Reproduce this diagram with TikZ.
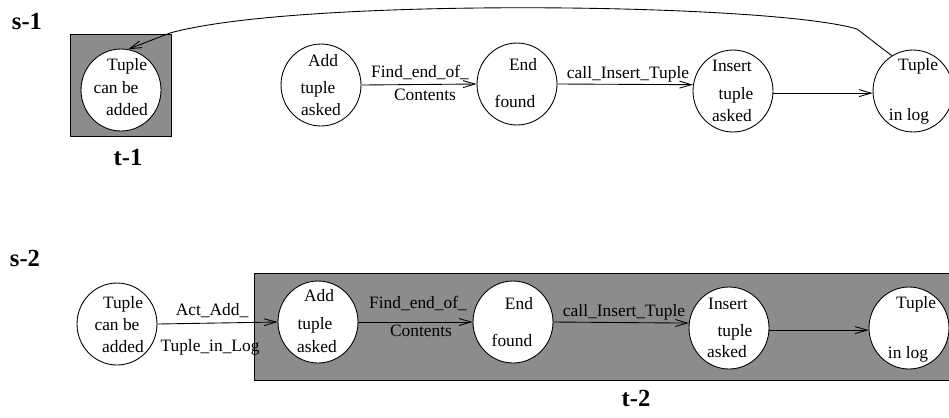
\documentclass[tikz,border=0pt]{standalone}
\usepackage{fontspec}
\setmainfont{Liberation Serif}
\usetikzlibrary{arrows.meta, shapes.geometric}
\definecolor{boxgray}{gray}{0.55}

\begin{document}
\begin{tikzpicture}[
  x=0.02cm, y=-0.02cm,
  font=\fontsize{9.9}{12}\selectfont,
  state/.style={ellipse, draw, fill=white, line width=0.5pt,
                minimum width=1.6cm, minimum height=1.64cm, inner sep=0pt},
  txt/.style={inner sep=0pt},
  tag/.style={inner sep=0pt, font=\fontsize{14}{16}\selectfont\bfseries},
  shade/.style={draw, line width=0.5pt, fill=boxgray},
  arr/.style={-{Straight Barb[length=2.4mm, width=1.4mm]}, line width=0.5pt},
]
\useasboundingbox (0,0) rectangle (949,417);
% s-1 (top row)
\node[tag] (s1) at (27,21) {s-1};
\draw[shade] (70,34) rectangle (171,136);
\node[tag] (t1) at (128,157) {t-1};
\node[state] (st1) at (121,90) {};
\node[state] (add1) at (321,85) {};
\node[state] (end1) at (517,84) {};
\node[state] (ins1) at (733,91) {};
\node[state] (tup1) at (913,91) {};
\node[txt] (st1a) at (127,66) {Tuple};
\node[txt] (st1b) at (116,88) {can be};
\node[txt] (st1c) at (127,110) {added};
\node[txt] (add1a) at (323,61) {Add};
\node[txt] (add1b) at (318,89) {tuple};
\node[txt] (add1c) at (321,110) {asked};
\node[txt] (end1a) at (523,65) {End};
\node[txt] (end1b) at (515,101) {found};
\node[txt] (ins1a) at (732,66) {Insert};
\node[txt] (ins1b) at (736,95) {tuple};
\node[txt] (ins1c) at (732,116) {asked};
\node[txt] (tup1a) at (918,66) {Tuple};
\node[txt] (tup1b) at (909,116) {in log};
\node[txt] (lab1a) at (420,72) {Find\_end\_of\_};
\node[txt] (lab1b) at (425,95) {Contents};
\node[txt] (lab1c) at (628,74) {call\_Insert\_Tuple};
\draw[arr] (add1.east) -- (end1.west);
\draw[arr] (end1.east) -- (ins1.171);
\draw[arr] (ins1.-3) -- (tup1.183);
\draw[arr] (tup1.121) -- (857,29) .. controls (770,3) and (300,-3) .. (170,33) -- (st1.80);
% s-2 (bottom row)
\node[tag] (s2) at (25,258) {s-2};
\draw[shade] (254,273) rectangle (949,380);
\node[tag] (t2) at (636,398) {t-2};
\node[state] (st2) at (117,324) {};
\node[state] (add2) at (318,322) {};
\node[state] (end2) at (513,322) {};
\node[state] (ins2) at (729,328) {};
\node[state] (tup2) at (909,328) {};
\node[txt] (st2a) at (123,304) {Tuple};
\node[txt] (st2b) at (117,325) {can be};
\node[txt] (st2c) at (123,347) {added};
\node[txt] (add2a) at (319,296) {Add};
\node[txt] (add2b) at (315,325) {tuple};
\node[txt] (add2c) at (317,347) {asked};
\node[txt] (end2a) at (519,304) {End};
\node[txt] (end2b) at (512,340) {found};
\node[txt] (ins2a) at (728,304) {Insert};
\node[txt] (ins2b) at (735,332) {tuple};
\node[txt] (ins2c) at (727,352) {asked};
\node[txt] (tup2a) at (916,304) {Tuple};
\node[txt] (tup2b) at (908,354) {in log};
\node[txt] (lab2a) at (212,311) {Act\_Add\_};
\node[txt] (lab2b) at (210,347) {Tuple\_in\_Log};
\node[txt] (lab2c) at (418,303) {Find\_end\_of\_};
\node[txt] (lab2d) at (421,331) {Contents};
\node[txt] (lab2e) at (624,312) {call\_Insert\_Tuple};
\draw[arr] (st2.east) -- (add2.west);
\draw[arr] (add2.east) -- (end2.west);
\draw[arr] (end2.east) -- (ins2.173);
\draw[arr] (ins2.-3) -- (tup2.183);
\end{tikzpicture}
\end{document}
